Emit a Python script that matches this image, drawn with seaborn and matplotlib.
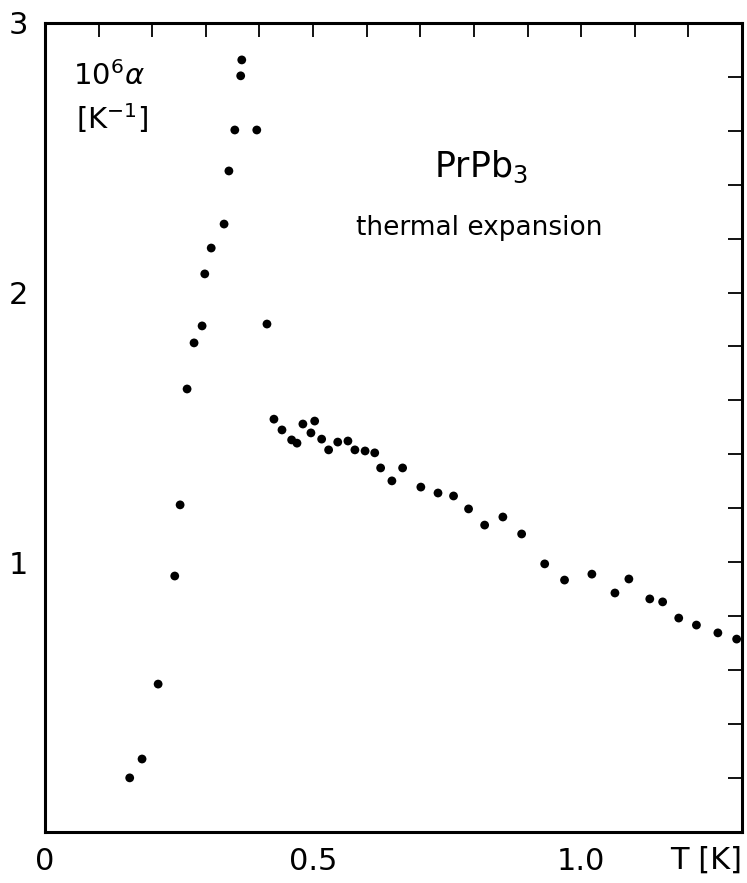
import numpy as np
import pandas as pd
import matplotlib
matplotlib.use("Agg")
import matplotlib.pyplot as plt
import seaborn as sns

# Temperature T [K]
T_values = [0.158, 0.181, 0.211, 0.242, 0.252, 0.265, 0.278, 0.293, 0.298, 0.310,
            0.334, 0.343, 0.354, 0.365, 0.367, 0.395, 0.414,
            0.427, 0.442, 0.460, 0.470, 0.481, 0.496, 0.503, 0.516, 0.529, 0.546,
            0.565, 0.578, 0.597, 0.615, 0.626, 0.647, 0.667, 0.701, 0.733, 0.762,
            0.790, 0.820, 0.854, 0.889, 0.932, 0.969, 1.020, 1.063, 1.089, 1.128,
            1.152, 1.182, 1.215, 1.255, 1.290]
# 10^6 alpha [1/K]
alpha_values = [0.199, 0.269, 0.547, 0.948, 1.212, 1.642, 1.813, 1.876, 2.069, 2.165,
                2.254, 2.451, 2.603, 2.804, 2.863, 2.603, 1.883,
                1.530, 1.490, 1.453, 1.441, 1.512, 1.479, 1.523, 1.456, 1.416, 1.445,
                1.449, 1.416, 1.412, 1.405, 1.349, 1.301, 1.349, 1.278, 1.256, 1.245,
                1.197, 1.137, 1.167, 1.104, 0.993, 0.933, 0.955, 0.885, 0.937, 0.863,
                0.852, 0.792, 0.766, 0.737, 0.714]

x_tick_positions = [round(0.1 * i, 1) for i in range(14)]
x_tick_labels = {0.0: "0", 0.5: "0.5", 1.0: "1.0"}
y_tick_positions = [round(0.2 * i, 1) for i in range(16)]
y_tick_labels = {1.0: "1", 2.0: "2", 3.0: "3"}

df = pd.DataFrame({"T": T_values, "alpha": alpha_values})

sns.set_style("white")
plt.rcParams["font.family"] = ["DejaVu Sans"]
plt.rcParams["mathtext.fontset"] = "dejavusans"
plt.rcParams["text.color"] = "black"
plt.rcParams["xtick.color"] = "black"
plt.rcParams["ytick.color"] = "black"
plt.rcParams["xtick.labelcolor"] = "black"
plt.rcParams["ytick.labelcolor"] = "black"

fig = plt.figure(figsize=(7.47, 8.83), dpi=100)
ax = fig.add_axes([45 / 747, 1 - 831.5 / 883, (742 - 45) / 747, (831.5 - 23) / 883])

sns.scatterplot(data=df, x="T", y="alpha", ax=ax, color="black", s=40,
                edgecolor="none", legend=False)

ax.set_xlim(0, 1.3)
ax.set_ylim(0, 3)
ax.set_xticks(x_tick_positions)
ax.set_xticklabels([x_tick_labels.get(t, "") for t in x_tick_positions])
ax.set_yticks(y_tick_positions)
ax.set_yticklabels([y_tick_labels.get(t, "") for t in y_tick_positions])
ax.set_xlabel("")
ax.set_ylabel("")

for s in ax.spines.values():
    s.set_linewidth(2.2)
    s.set_color("black")

ax.tick_params(axis="both", direction="in", top=True, right=True, length=10,
               width=1.3, colors="black", labelsize=22)
ax.tick_params(axis="x", pad=11)
ax.tick_params(axis="y", pad=12)

ax.text(1.0, -0.035, "T [K]", transform=ax.transAxes, ha="right", va="center",
        fontsize=22)

ax.text(0.04, 0.935, r"10$^{6}\alpha$", transform=ax.transAxes, ha="left",
        va="center", fontsize=21)
ax.text(0.045, 0.883, r"[K$^{-1}$]", transform=ax.transAxes, ha="left",
        va="center", fontsize=21)

ax.text(0.625, 0.822, r"PrPb$_3$", transform=ax.transAxes, ha="center",
        va="center", fontsize=25)
ax.text(0.623, 0.747, "thermal expansion", transform=ax.transAxes, ha="center",
        va="center", fontsize=19)

fig.savefig("out.png", dpi=100)
